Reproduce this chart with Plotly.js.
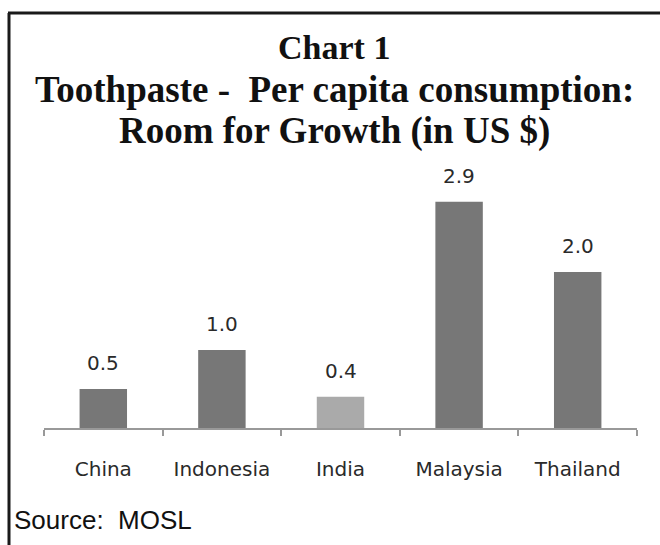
<!DOCTYPE html>
<html>
<head>
<meta charset="utf-8">
<script src="https://cdn.plot.ly/plotly-3.0.1.min.js"></script>
<style>
  html, body { margin: 0; padding: 0; background: #fff; }
  #chart { width: 660px; height: 545px; }
</style>
</head>
<body>
<div id="chart"></div>
<script>
// Per capita toothpaste consumption, US $
const countries = ["China", "Indonesia", "India", "Malaysia", "Thailand"];
const perCapitaUSD = [0.5, 1.0, 0.4, 2.9, 2.0];
const barColors = ["#777777", "#777777", "#aaaaaa", "#777777", "#777777"];

const titleLines = [
  "Chart 1",
  "Toothpaste -  Per capita consumption:",
  "Room for Growth (in US $)"
];
const sourceNote = "Source:  MOSL";

// Plot area geometry (pixels)
const W = 660, H = 545;
const plotLeft = 44, plotRight = 637, plotBottom = 428, plotTop = 155;
const pxToPaperY = py => (plotBottom - py) / (plotBottom - plotTop);
const pxToPaperX = px => (px - plotLeft) / (plotRight - plotLeft);

const labelFont = { family: "DejaVu Sans, Verdana, sans-serif", size: 20, color: "#2a2a2a" };

const valueLabels = countries.map((c, i) => ({
  x: c,
  y: perCapitaUSD[i],
  xref: "x",
  yref: "y",
  text: perCapitaUSD[i].toFixed(1),
  showarrow: false,
  yanchor: "bottom",
  yshift: 12,
  font: labelFont
}));

const titleY = [47, 90, 131];
const titleSizes = [34, 37, 37];
const titleAnnotations = titleLines.map((t, i) => ({
  text: "<b>" + t + "</b>",
  xref: "paper",
  yref: "paper",
  x: pxToPaperX(334),
  y: pxToPaperY(titleY[i]),
  xanchor: "center",
  yanchor: "middle",
  showarrow: false,
  font: { family: "Liberation Serif, Times New Roman, serif", size: titleSizes[i], color: "#111111" }
}));

const sourceAnnotation = {
  text: sourceNote,
  xref: "paper",
  yref: "paper",
  x: pxToPaperX(12),
  y: pxToPaperY(520),
  xanchor: "left",
  yanchor: "middle",
  showarrow: false,
  font: { family: "Liberation Sans, Arial, sans-serif", size: 26, color: "#111111" }
};

const trace = {
  type: "bar",
  x: countries,
  y: perCapitaUSD,
  marker: { color: barColors, line: { width: 0 } },
  width: 0.4,
  hoverinfo: "x+y"
};

const layout = {
  width: W,
  height: H,
  margin: { l: plotLeft, r: W - plotRight, t: plotTop, b: H - plotBottom, pad: 0 },
  paper_bgcolor: "#ffffff",
  plot_bgcolor: "#ffffff",
  showlegend: false,
  xaxis: {
    type: "category",
    showline: true,
    linecolor: "#999999",
    linewidth: 2,
    ticks: "outside",
    tickson: "boundaries",
    ticklen: 6,
    tickwidth: 2,
    tickcolor: "#999999",
    tickfont: labelFont,
    ticklabelstandoff: 22,
    showgrid: false,
    zeroline: false,
    fixedrange: true
  },
  yaxis: {
    range: [0, 3.5],
    visible: false,
    showgrid: false,
    zeroline: false,
    fixedrange: true
  },
  shapes: [
    // frame: top and left rules
    { type: "line", xref: "paper", yref: "paper",
      x0: pxToPaperX(8), x1: pxToPaperX(W), y0: pxToPaperY(13), y1: pxToPaperY(13),
      line: { color: "#1a1a1a", width: 3 } },
    { type: "line", xref: "paper", yref: "paper",
      x0: pxToPaperX(9), x1: pxToPaperX(9), y0: pxToPaperY(13), y1: pxToPaperY(H),
      line: { color: "#1a1a1a", width: 3 } }
  ],
  annotations: titleAnnotations.concat(valueLabels, [sourceAnnotation])
};

Plotly.newPlot("chart", [trace], layout, { displayModeBar: false, staticPlot: true });
</script>
</body>
</html>
